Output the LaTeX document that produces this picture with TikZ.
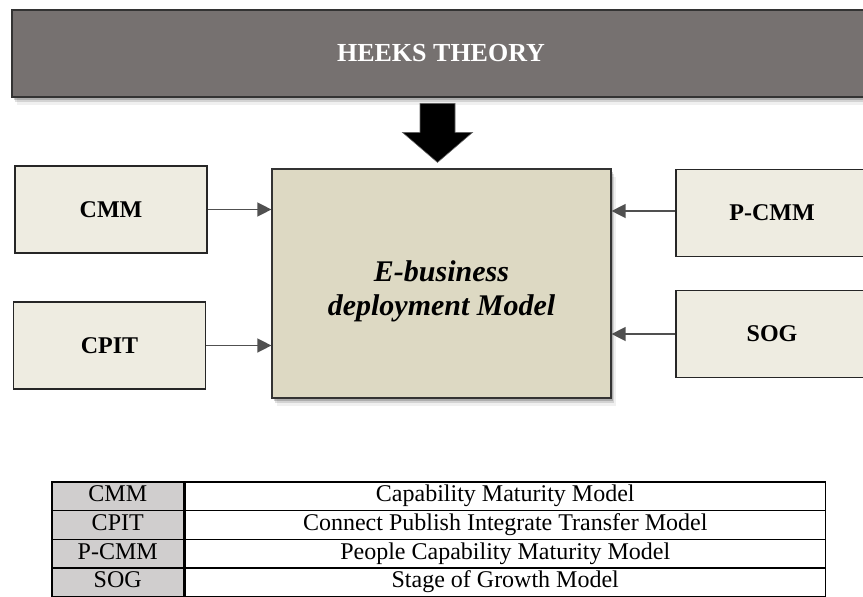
\documentclass[tikz,border=0pt]{standalone}
\usepackage{fontspec}
\setmainfont{Liberation Serif}
\usetikzlibrary{arrows.meta,calc,positioning,shadows}
\definecolor{heeksgrey}{RGB}{118,113,112}
\definecolor{boxcream}{RGB}{238,236,225}
\definecolor{modeltan}{RGB}{221,217,195}
\definecolor{abbrgrey}{RGB}{208,206,206}
\definecolor{feedgrey}{RGB}{80,80,80}
\newcommand{\pxfont}[2]{\fontsize{#1}{#2}\selectfont}

\begin{document}
\begin{tikzpicture}[x=1pt,y=1pt,
    softshadow/.style={general shadow={shadow xshift=1.5pt,shadow yshift=-2.5pt,fill=black,opacity=.18},
      general shadow={shadow xshift=3pt,shadow yshift=-5pt,fill=black,opacity=.12},
      general shadow={shadow xshift=4.5pt,shadow yshift=-8pt,fill=black,opacity=.06}},
    inbox/.style={draw=black!85,line width=1.2pt,fill=boxcream,minimum width=192,
      minimum height=87,inner sep=0,font=\pxfont{24}{28}\bfseries},
    feed/.style={draw=feedgrey,line width=1.4pt,-{Triangle[length=14pt,width=14pt]}},
    abbrcell/.style={draw,line width=1.5pt,fill=abbrgrey,minimum width=132,
      minimum height=28.75,inner sep=0,text height=16,text depth=5,font=\pxfont{24}{28}},
    fullcell/.style={draw,line width=1.5pt,minimum width=640,
      minimum height=28.75,inner sep=0,text height=16,text depth=5,font=\pxfont{24}{28}}]
  \useasboundingbox (0,0) rectangle (863,-597);
  \clip (0,0) rectangle (863,-597);

  \node[draw=black!80,line width=1.5pt,fill=heeksgrey,softshadow,minimum width=858,
    minimum height=87,text=white,font=\pxfont{26}{30}\bfseries] (heeks) at (441,-53.5) {HEEKS THEORY};

  \node[draw=black!80,line width=1.2pt,fill=modeltan,softshadow,minimum width=339,
    minimum height=229] (model) at (441.5,-283.5) {};
  \node[align=center,font=\pxfont{30}{34}\bfseries\itshape]
    (modeltext) at ($(model.center)+(0,-8)$) {E-business\\deployment Model};

  \node[inbox] (cmm) at (111,-209.5) {CMM};
  \node[inbox] (cpit) at (109.5,-345.5) {CPIT};
  \node[inbox] (pcmm) at (772,-213) {P-CMM};
  \node[inbox] (sog) at (772,-334) {SOG};

  \draw[feed] (cmm) -- (model.west |- cmm);
  \draw[feed] (cpit) -- (model.west |- cpit);
  \draw[feed] (pcmm.west |- 0,-211) -- (model.east |- 0,-211);
  \draw[feed] (sog) -- (model.east |- sog);

  \coordinate (feedtip) at ($(model.north)+(-4,6)$);
  \filldraw[fill=black,draw=black!60,line width=.6pt] (feedtip) -- ++(35,30) -- ++(-17.5,0)
    -- ++(0,29) -- ++(-35,0) -- ++(0,-29) -- ++(-17.5,0) -- cycle;

  \foreach \abbr/\full [count=\r] in {CMM/Capability Maturity Model,
      CPIT/Connect Publish Integrate Transfer Model,
      P-CMM/People Capability Maturity Model,
      SOG/Stage of Growth Model}{
    \node[abbrcell,anchor=north west] (abbr\r) at (51,{-481-28.75*(\r-1)}) {\abbr};
    \node[fullcell,anchor=west] (full\r) at (abbr\r.east) {\full};
  }
\end{tikzpicture}
\end{document}
